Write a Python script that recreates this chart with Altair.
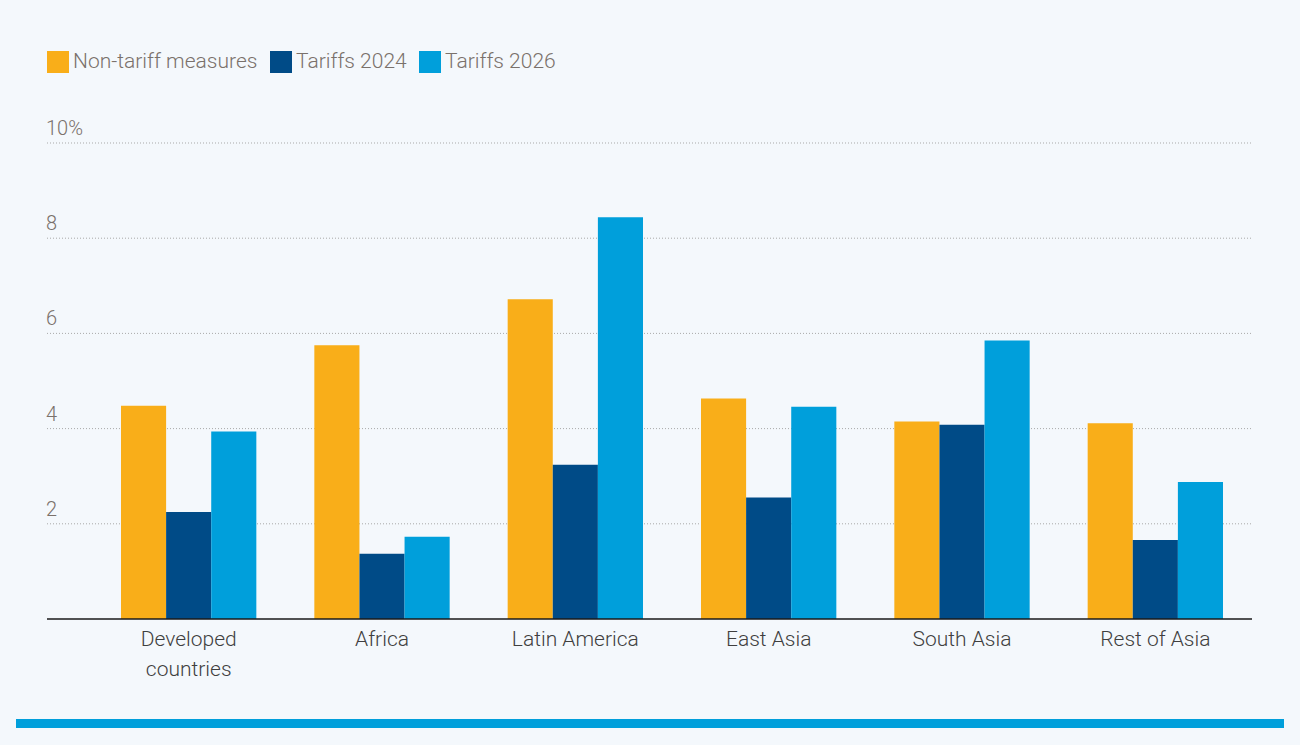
import altair as alt
import pandas as pd

# Regions along the x axis
regions = ["Developed countries", "Africa", "Latin America", "East Asia", "South Asia", "Rest of Asia"]
series_names = ["Non-tariff measures", "Tariffs 2024", "Tariffs 2026"]
series_colors = ["#F9AE19", "#004B87", "#009FDB"]

# Trade-cost equivalents, percent
non_tariff = [4.48, 5.75, 6.72, 4.63, 4.15, 4.11]
tariffs_2024 = [2.25, 1.37, 3.24, 2.55, 4.08, 1.66]
tariffs_2026 = [3.94, 1.73, 8.44, 4.46, 5.85, 2.88]

# Y axis ticks
tick_values = [2, 4, 6, 8, 10]
tick_labels = ["2", "4", "6", "8", "10%"]

FONT = "Roboto"
W, H = 1160, 476
LEFT = 92
TOP = 143

rows = []
for i, r in enumerate(regions):
    for s, vals in zip(series_names, [non_tariff, tariffs_2024, tariffs_2026]):
        rows.append({"region": r, "series": s, "value": vals[i]})
bars_df = pd.DataFrame(rows)
ticks_df = pd.DataFrame({"v": tick_values, "label": tick_labels})
base_df = pd.DataFrame({"v": [0]})

y_scale = alt.Scale(domain=[0, 10])

grid = alt.Chart(ticks_df).mark_rule(color="#A9A9A9", strokeDash=[1, 2], strokeWidth=1).encode(
    y=alt.Y("v:Q", scale=y_scale, axis=None),
    x=alt.value(47 - LEFT),
    x2=alt.value(W),
)

tick_text = alt.Chart(ticks_df).mark_text(
    align="left", baseline="alphabetic", dy=-8, fontSize=20, fontWeight=300,
    color="#7A716B", font=FONT
).encode(
    y=alt.Y("v:Q", scale=y_scale, axis=None),
    x=alt.value(46 - LEFT),
    text="label:N",
)

bars = alt.Chart(bars_df).mark_bar(stroke=None).encode(
    x=alt.X(
        "region:N",
        sort=regions,
        scale=alt.Scale(paddingInner=0.3, paddingOuter=0.15),
        axis=alt.Axis(
            title=None,
            domain=False,
            ticks=False,
            labelAngle=0,
            labelFont=FONT,
            labelFontSize=21,
            labelFontWeight=300,
            labelColor="#3F3F3F",
            labelPadding=9,
            labelLineHeight=30,
            labelBaseline="top",
            labelLimit=0,
            labelExpr="datum.label == 'Developed countries' ? ['Developed', 'countries'] : datum.label",
        ),
    ),
    xOffset=alt.XOffset("series:N", sort=series_names, scale=alt.Scale(paddingInner=0, paddingOuter=0)),
    y=alt.Y("value:Q", scale=y_scale, axis=None),
    color=alt.Color(
        "series:N",
        sort=series_names,
        scale=alt.Scale(domain=series_names, range=series_colors),
        legend=alt.Legend(
            title=None,
            orient="none",
            legendX=47 - LEFT,
            legendY=-92,
            direction="horizontal",
            symbolType="square",
            symbolSize=484,
            symbolStrokeWidth=0,
            symbolOpacity=1,
            labelFont=FONT,
            labelFontSize=21,
            labelFontWeight=300,
            labelColor="#7A716B",
            labelOffset=4,
            labelLimit=0,
            columnPadding=12,
        ),
    ),
)

baseline = alt.Chart(base_df).mark_rule(color="#1A1A1A", strokeWidth=1.5).encode(
    y=alt.Y("v:Q", scale=y_scale, axis=None),
    x=alt.value(47 - LEFT),
    x2=alt.value(W),
)

# Decorative stripe along the bottom edge
stripe = alt.Chart(base_df).mark_rule(color="#009FDB", strokeWidth=9).encode(
    x=alt.value(16 - LEFT),
    x2=alt.value(1284 - LEFT),
    y=alt.value(723.5 - TOP),
)

chart = alt.layer(grid, tick_text, bars, baseline, stripe).properties(
    width=W,
    height=H,
    autosize=alt.AutoSizeParams(type="none"),
    padding={"left": LEFT, "top": TOP, "right": 48, "bottom": 745 - TOP - H},
    background="#F4F8FC",
).configure_view(stroke=None)

chart.save("out.html", embed_options={"renderer": "svg", "actions": False})
